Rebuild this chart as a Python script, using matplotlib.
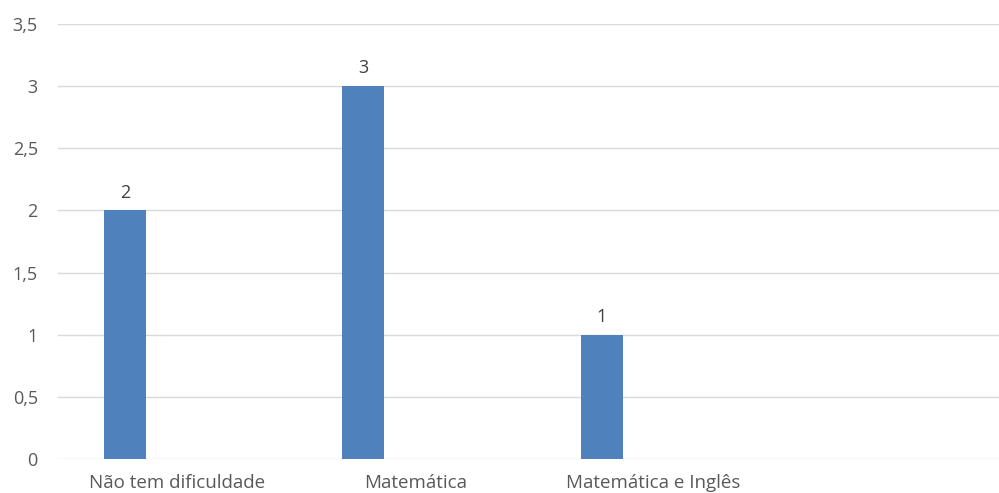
import matplotlib
matplotlib.use("Agg")
import matplotlib.pyplot as plt
import numpy as np

# data
categories = ["Não tem dificuldade", "Matemática", "Matemática e Inglês", ""]
values = [2, 3, 1, 0]
yticks = [0, 0.5, 1, 1.5, 2, 2.5, 3, 3.5]

plt.rcParams['font.family'] = ['Open Sans', 'DejaVu Sans']

fig = plt.figure(figsize=(9.99, 4.93), dpi=100)
ax = fig.add_axes([58/999, 1 - 459/493, 1 - 58/999, (459 - 24)/493])

x = np.arange(len(categories))
offset = -0.218
width = 0.176

bars = ax.bar(x[:3] + offset, values[:3], width, color="#4F81BD", zorder=3)
for b, v in zip(bars, values[:3]):
    ax.text(b.get_x() + b.get_width()/2, v + 0.07, str(v), ha="center", va="bottom",
            fontsize=13, color="#404040")

ax.set_xlim(-0.5, 3.45)
ax.set_ylim(0, 3.5)
ax.set_yticks(yticks)
ax.set_yticklabels([("%g" % t).replace(".", ",") for t in yticks])
ax.set_xticks(x)
ax.set_xticklabels(categories)
ax.tick_params(axis="y", length=0, pad=14.5, labelsize=13, labelcolor="#595959")
ax.tick_params(axis="x", length=0, pad=11, labelsize=13.5, labelcolor="#595959")
ax.grid(axis="y", color="#d9d9d9", linewidth=1, zorder=0)
for s in ax.spines.values():
    s.set_visible(False)

fig.savefig("out.png", dpi=100)
